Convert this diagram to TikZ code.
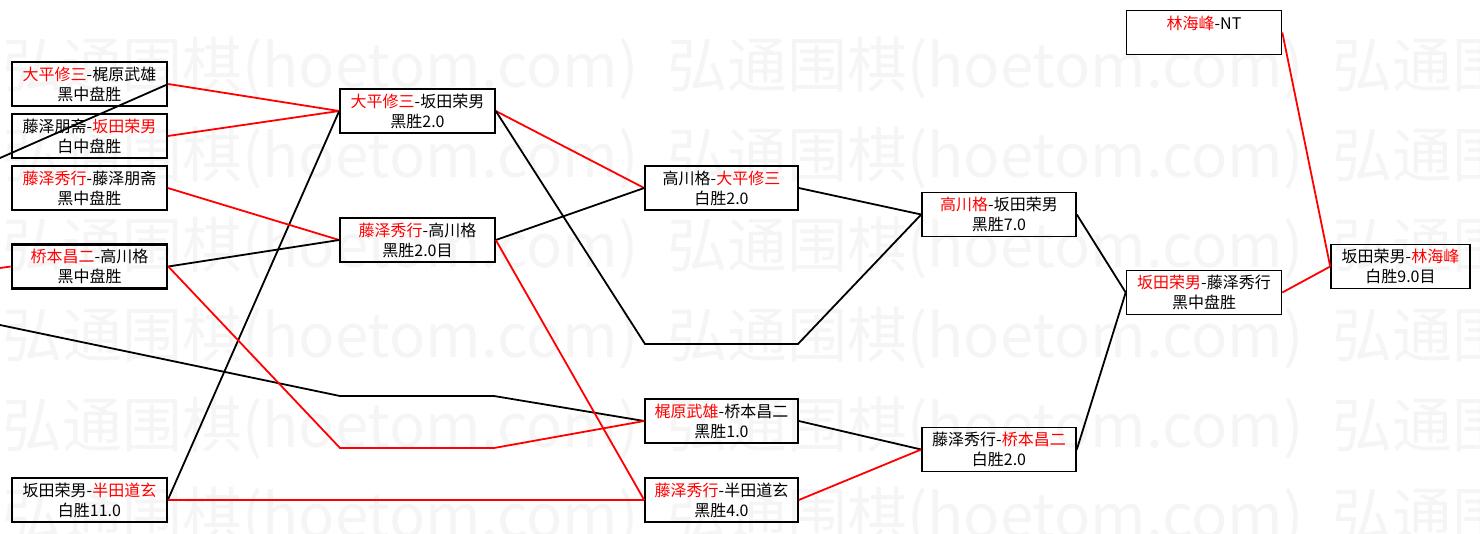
\documentclass[tikz,border=0pt]{standalone}
\usepackage{fontspec}
\setmainfont{Noto Sans CJK SC}
\usepackage{xcolor}
\definecolor{winred}{RGB}{255,0,0}
\definecolor{losegray}{gray}{0}
\definecolor{wmgray}{gray}{0.962}
\usepackage{tikz}
\usetikzlibrary{positioning, backgrounds}
\newcommand{\wname}[1]{\textcolor{winred}{#1}}

\begin{document}
\begin{tikzpicture}[x=1pt, y=-1pt,
  font=\fontsize{16}{20}\selectfont,
  game/.style={rectangle, draw=black, line width=1.6pt, minimum width=155pt, minimum height=44pt, inner sep=0pt, align=center},
  seedgame/.style={game, line width=2.6pt},
  winline/.style={draw=winred, line width=1.8pt},
  loseline/.style={draw=losegray, line width=1.8pt},
  wmark/.style={anchor=west, inner sep=0pt, text=wmgray, font=\fontsize{60}{64}\selectfont}
]
  \useasboundingbox (0,0) rectangle (1480,533);

  % 水印
  \foreach \r in {0,...,5} {
    \foreach \c in {0,1,2} {
      \node[wmark] (wm\r\c) at (2+665*\c, 68+90*\r) {弘通围棋(hoetom.com)};
    }
  }

  % 第一轮
  \node[seedgame] (a1) at (89.5, 84)  {\wname{大平修三}-梶原武雄\\黑中盘胜};
  \node[game]     (a2) at (89.5, 136) {藤泽朋斋-\wname{坂田荣男}\\白中盘胜};
  \node[game]     (a3) at (89.5, 188) {\wname{藤泽秀行}-藤泽朋斋\\黑中盘胜};
  \node[seedgame] (a4) at (89.5, 266.5) {\wname{桥本昌二}-高川格\\黑中盘胜};
  \node[game]     (a5) at (89.5, 500) {坂田荣男-\wname{半田道玄}\\白胜11.0};

  % 第二轮
  \node[game] (b1) at (417.5, 111) {\wname{大平修三}-坂田荣男\\黑胜2.0};
  \node[game] (b2) at (417.5, 240) {\wname{藤泽秀行}-高川格\\黑胜2.0目};

  % 第三轮
  \node[game, minimum width=153pt] (c1) at (721.5, 188) {高川格-\wname{大平修三}\\白胜2.0};
  \node[game, minimum width=153pt] (c3) at (721.5, 421) {\wname{梶原武雄}-桥本昌二\\黑胜1.0};
  \node[game, minimum width=153pt] (c4) at (721.5, 500) {\wname{藤泽秀行}-半田道玄\\黑胜4.0};

  % 第四轮
  \node[game, minimum width=154pt] (d1) at (999, 214.5) {\wname{高川格}-坂田荣男\\黑胜7.0};
  \node[game, minimum width=154pt] (d2) at (999, 449.5) {藤泽秀行-\wname{桥本昌二}\\白胜2.0};

  % 决赛
  \node[game] (e1) at (1204, 292.5) {\wname{坂田荣男}-藤泽秀行\\黑中盘胜};
  \node[game] (f0) at (1204, 32.5)  {\wname{林海峰}-NT\\\mbox{}};
  \node[game, minimum width=139pt] (f1) at (1400.5, 266.5) {坂田荣男-\wname{林海峰}\\白胜9.0目};

  % 折点
  \coordinate (inA) at (0, 158);
  \coordinate (inB) at (0, 268);
  \coordinate (inC) at (0, 325);
  \coordinate (k1) at (340, 396);
  \coordinate (k2) at (494, 396);
  \coordinate (k3) at (340, 448);
  \coordinate (k4) at (494, 448);
  \coordinate (k5) at (645, 344);
  \coordinate (k6) at (798, 344);

  % 连线 第一轮
  \draw[loseline] (inA) -- (a1.east);
  \draw[winline] (inB) -- (a4.west);
  \draw[loseline] (inC) -- (k1) -- (k2) -- (c3.west);
  \draw[winline] (a1.east) -- (b1.west);
  \draw[winline] (a2.east) -- (b1.west);
  \draw[loseline] (a5.east) -- (b1.west);
  \draw[winline] (a3.east) -- (b2.west);
  \draw[loseline] (a4.east) -- (b2.west);
  \draw[winline] (a4.east) -- (k3) -- (k4) -- (c3.west);
  \draw[winline] (a5.east) -- (c4.west);

  % 连线 第二轮
  \draw[winline] (b1.east) -- (c1.west);
  \draw[loseline] (b1.east) -- (k5) -- (k6) -- (d1.west);
  \draw[loseline] (b2.east) -- (c1.west);
  \draw[winline] (b2.east) -- (c4.west);

  % 连线 第三轮
  \draw[loseline] (c1.east) -- (d1.west);
  \draw[loseline] (c3.east) -- (d2.west);
  \draw[winline] (c4.east) -- (d2.west);

  % 连线 决赛
  \draw[loseline] (d1.east) -- (e1.west);
  \draw[loseline] (d2.east) -- (e1.west);
  \draw[winline] (e1.east) -- (f1.west);
  \draw[winline] (f0.east) -- (f1.west);
\end{tikzpicture}
\end{document}
